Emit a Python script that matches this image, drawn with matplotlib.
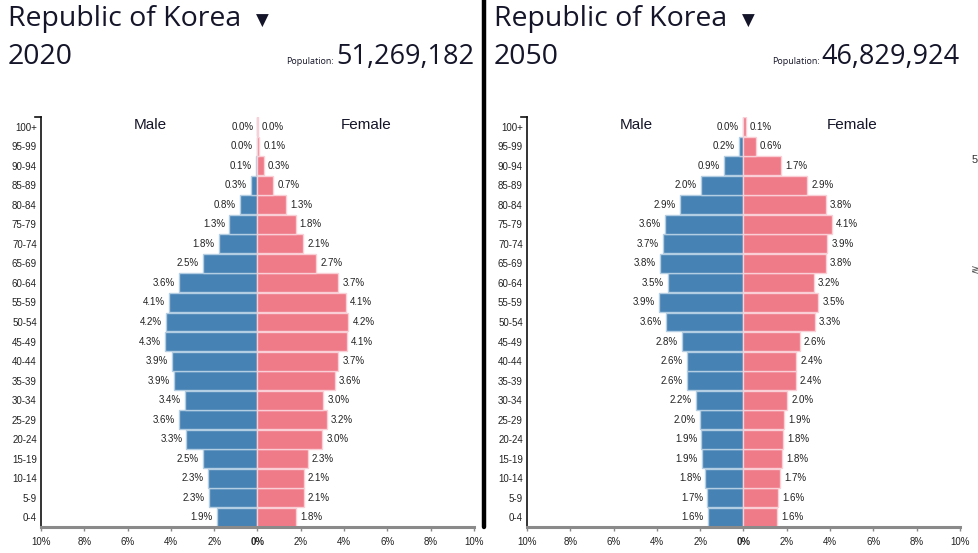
import matplotlib

matplotlib.use("Agg")
import matplotlib.pyplot as plt
from matplotlib.lines import Line2D

W, H = 979, 553

AGES = ["0-4", "5-9", "10-14", "15-19", "20-24", "25-29", "30-34", "35-39",
        "40-44", "45-49", "50-54", "55-59", "60-64", "65-69", "70-74",
        "75-79", "80-84", "85-89", "90-94", "95-99", "100+"]

MALE_2020 = [1.89, 2.26, 2.28, 2.51, 3.28, 3.62, 3.37, 3.87, 3.93, 4.27, 4.22,
             4.07, 3.62, 2.51, 1.80, 1.30, 0.80, 0.32, 0.09, 0.02, 0.00]
FEMALE_2020 = [1.80, 2.13, 2.14, 2.31, 2.99, 3.19, 3.03, 3.56, 3.72, 4.12, 4.20,
               4.07, 3.73, 2.71, 2.10, 1.76, 1.32, 0.72, 0.29, 0.07, 0.01]

MALE_2050 = [1.63, 1.68, 1.77, 1.91, 1.94, 2.00, 2.20, 2.61, 2.63, 2.83, 3.59,
             3.88, 3.50, 3.84, 3.70, 3.61, 2.94, 1.97, 0.92, 0.21, 0.03]
FEMALE_2050 = [1.56, 1.59, 1.67, 1.80, 1.82, 1.87, 2.03, 2.42, 2.43, 2.59, 3.28,
               3.46, 3.24, 3.79, 3.87, 4.09, 3.79, 2.94, 1.73, 0.57, 0.11]

COUNTRY = "Republic of Korea"
YEARS = ["2020", "2050"]
POPULATIONS = ["51,269,182", "46,829,924"]
XTICKS = [-10, -8, -6, -4, -2, 0, 2, 4, 6, 8, 10]

MALE_COLOR = "#4682b4"
FEMALE_COLOR = "#ef7a88"
TEXT = "#15152a"
HEAD_FONT = ["Open Sans", "DejaVu Sans"]
BODY_FONT = ["Liberation Sans", "DejaVu Sans"]

fig = plt.figure(figsize=(W / 100, H / 100), dpi=100)


def fx(x):
    return x / W


def fy(y):
    return 1 - y / H


def draw_panel(dx, year, population, male, female):
    # header
    fig.text(fx(dx + 8), fy(19), COUNTRY, fontsize=20.5, family=HEAD_FONT,
             color=TEXT, va="center", ha="left")
    fig.text(fx(dx + 262), fy(21), "\u25bc", fontsize=12, family=["DejaVu Sans"],
             color=TEXT, va="center", ha="center")
    fig.text(fx(dx + 8), fy(57), year, fontsize=20.5, family=HEAD_FONT,
             color=TEXT, va="center", ha="left")
    num = fig.text(fx(dx + 474), fy(57), population, fontsize=19.5,
                   family=HEAD_FONT, color=TEXT, va="center", ha="right")
    # small caption sits just left of the big number
    fig.add_artist(plt.Annotation("Population:", xy=(0, 0.18), xycoords=num,
                                  xytext=(-1.5, 0), textcoords="offset points",
                                  ha="right", va="bottom", fontsize=6.5,
                                  family=HEAD_FONT, color=TEXT))

    # pyramid axes
    ax = fig.add_axes([fx(dx + 41), fy(527), fx(433), 410 / H])
    ys = list(range(len(AGES)))
    ax.barh(ys, [-v for v in male], height=0.97, color=MALE_COLOR,
            edgecolor="#b3cde3", linewidth=1.0)
    ax.barh(ys, female, height=0.97, color=FEMALE_COLOR,
            edgecolor="#fad0d6", linewidth=1.0)
    for y, m, f in zip(ys, male, female):
        ax.annotate(f"{m:.1f}%", (-m, y), xytext=(-3, 0), textcoords="offset points",
                    ha="right", va="center", fontsize=7, family=BODY_FONT, color="#222")
        ax.annotate(f"{f:.1f}%", (f, y), xytext=(3, 0), textcoords="offset points",
                    ha="left", va="center", fontsize=7, family=BODY_FONT, color="#222")

    ax.set_xlim(-10, 10)
    ax.set_ylim(-0.5, len(AGES) - 0.5)
    ax.set_yticks(ys)
    ax.set_yticklabels(AGES, fontsize=7, family=BODY_FONT, color="#222")
    ax.tick_params(axis="y", length=0, pad=3)
    ax.set_xticks(XTICKS)
    ax.set_xticklabels([f"{abs(t)}%" for t in XTICKS], fontsize=7,
                       family=BODY_FONT, color="#222")
    ax.tick_params(axis="x", length=3, width=1, color="#888888", pad=4)
    for lab in ax.get_xticklabels():
        if lab.get_text() == "0%":
            lab.set_fontweight("bold")
    ax.spines["top"].set_visible(False)
    ax.spines["right"].set_visible(False)
    ax.spines["left"].set_color("#111111")
    ax.spines["left"].set_linewidth(1.2)
    ax.spines["bottom"].set_color("#8a8a8a")
    ax.spines["bottom"].set_linewidth(2.2)
    ax.set_facecolor("none")

    # outer tick at the top of the age axis
    fig.add_artist(Line2D([fx(dx + 35), fx(dx + 41)], [fy(117), fy(117)],
                          transform=fig.transFigure, color="#111111", lw=1.2))

    fig.text(fx(dx + 150), fy(125), "Male", fontsize=11, family=BODY_FONT,
             color=TEXT, ha="center", va="center")
    fig.text(fx(dx + 366), fy(125), "Female", fontsize=11, family=BODY_FONT,
             color=TEXT, ha="center", va="center")


draw_panel(0, YEARS[0], POPULATIONS[0], MALE_2020, FEMALE_2020)
draw_panel(486, YEARS[1], POPULATIONS[1], MALE_2050, FEMALE_2050)

# divider between the two pyramids
fig.add_artist(Line2D([fx(484.5), fx(484.5)], [fy(0), fy(527)],
                      transform=fig.transFigure, color="black", lw=3.2,
                      solid_capstyle="round"))

# clipped glyphs at the right edge
fig.text(fx(975), fy(160), "5", fontsize=8, family=BODY_FONT, color="#333",
         ha="center", va="center")
fig.text(fx(975), fy(270), "\u2277", fontsize=7, family=["DejaVu Sans"],
         color="#555", ha="center", va="center")

fig.savefig("out.png", dpi=100)
